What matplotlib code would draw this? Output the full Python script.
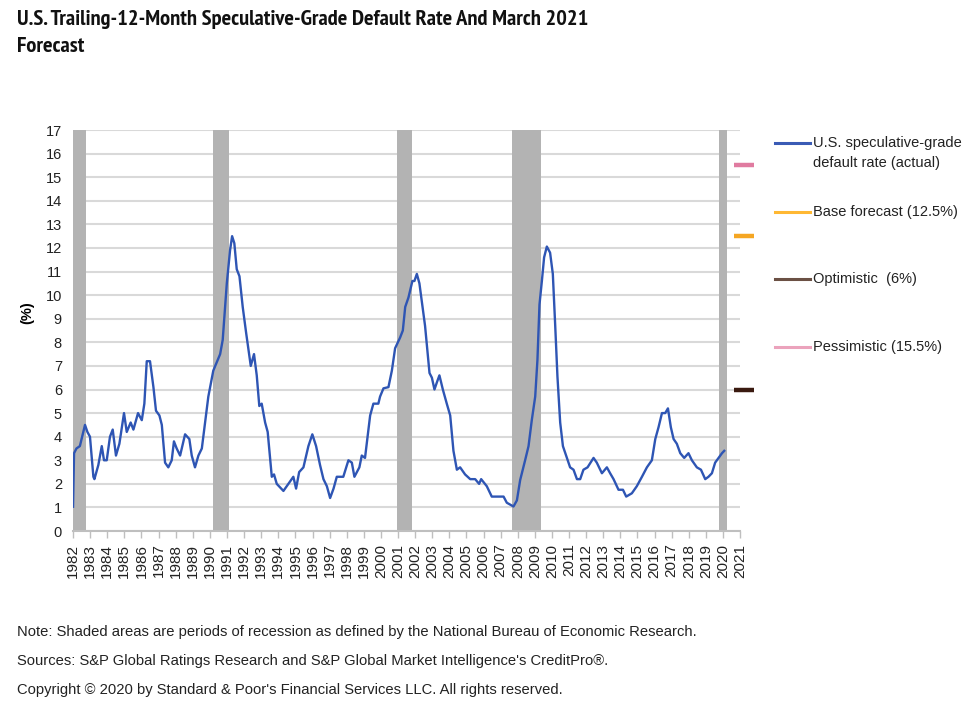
import numpy as np
import matplotlib.pyplot as plt
import matplotlib.font_manager as fm
from matplotlib.lines import Line2D

plt.rcParams['font.family'] = ['Liberation Sans', 'DejaVu Sans']


def peso(f):
    w = f.weight
    if isinstance(w, str):
        return fm.weight_dict.get(w, 400)
    return w


# buscar una fuente estrecha en negrita para el titulo (como Arial Narrow Bold)
estrechas = [f for f in fm.fontManager.ttflist
             if ('Narrow' in f.name or 'Condensed' in f.name) and peso(f) >= 600]
estrechas.sort(key=lambda f: (0 if 'Narrow' in f.name else 1 if 'Roboto' in f.name else 2,
                              abs(peso(f) - 700)))
if estrechas:
    fuente_titulo, tam_titulo = [estrechas[0].name, 'DejaVu Sans'], 16.2
else:
    fuente_titulo, tam_titulo = ['Liberation Sans', 'DejaVu Sans'], 12.6

# fecha (año fraccional) y tasa de default (%)
fechas = [1982.0, 1982.06, 1982.2, 1982.4, 1982.5, 1982.7, 1982.84, 1982.99, 1983.19, 1983.25,
          1983.48, 1983.58, 1983.68, 1983.81, 1983.97, 1984.16, 1984.32, 1984.51, 1984.71, 1984.98,
          1985.14, 1985.37, 1985.53, 1985.8, 1986.02, 1986.17, 1986.31, 1986.5, 1986.7, 1986.85,
          1987.05, 1987.19, 1987.38, 1987.57, 1987.77, 1987.9, 1988.06, 1988.26, 1988.55, 1988.8,
          1988.94, 1989.13, 1989.33, 1989.53, 1989.91, 1990.2, 1990.6, 1990.75, 1990.99, 1991.18,
          1991.3, 1991.43, 1991.57, 1991.73, 1991.92, 1992.12, 1992.39, 1992.58, 1992.74, 1992.89,
          1993.03, 1993.23, 1993.38, 1993.62, 1993.75, 1993.91, 1994.3, 1994.69, 1994.88, 1995.04,
          1995.22, 1995.47, 1995.76, 1995.99, 1996.21, 1996.44, 1996.64, 1996.84, 1997.03, 1997.23,
          1997.42, 1997.61, 1997.8, 1998.1, 1998.3, 1998.45, 1998.74, 1998.88, 1999.07, 1999.37,
          1999.56, 1999.85, 1999.95, 2000.15, 2000.44, 2000.64, 2000.83, 2001.12, 2001.28, 2001.42,
          2001.61, 2001.84, 2001.96, 2002.1, 2002.25, 2002.45, 2002.58, 2002.84, 2002.98, 2003.13,
          2003.27, 2003.42, 2003.62, 2003.85, 2004.05, 2004.24, 2004.44, 2004.63, 2004.92, 2005.22,
          2005.51, 2005.74, 2005.86, 2006.19, 2006.48, 2006.78, 2007.17, 2007.36, 2007.75, 2007.95,
          2008.14, 2008.43, 2008.63, 2008.82, 2009.02, 2009.15, 2009.27, 2009.41, 2009.54, 2009.7,
          2009.89, 2010.05, 2010.19, 2010.32, 2010.48, 2010.64, 2010.87, 2011.06, 2011.26, 2011.46,
          2011.65, 2011.84, 2012.08, 2012.43, 2012.62, 2012.92, 2013.21, 2013.4, 2013.6, 2013.89,
          2014.15, 2014.34, 2014.67, 2014.96, 2015.26, 2015.55, 2015.84, 2016.04, 2016.23, 2016.43,
          2016.62, 2016.78, 2016.95, 2017.11, 2017.3, 2017.5, 2017.73, 2017.98, 2018.18, 2018.47,
          2018.71, 2018.96, 2019.15, 2019.35, 2019.54, 2019.74, 2019.94, 2020.07]
tasa = [1.03, 3.3, 3.5, 3.6, 3.9, 4.5, 4.2, 4.0, 2.3, 2.2,
        2.8, 3.2, 3.6, 3.0, 3.0, 4.0, 4.3, 3.2, 3.7, 5.0,
        4.2, 4.6, 4.3, 5.0, 4.7, 5.4, 7.2, 7.2, 6.1, 5.1,
        4.9, 4.5, 2.9, 2.7, 3.0, 3.8, 3.5, 3.2, 4.1, 3.9,
        3.2, 2.7, 3.2, 3.5, 5.7, 6.8, 7.5, 8.1, 10.5, 11.9,
        12.5, 12.2, 11.1, 10.8, 9.5, 8.4, 7.0, 7.5, 6.6, 5.3,
        5.4, 4.6, 4.2, 2.3, 2.4, 2.0, 1.7, 2.1, 2.3, 1.8,
        2.5, 2.7, 3.6, 4.1, 3.6, 2.8, 2.2, 1.9, 1.4, 1.8,
        2.3, 2.3, 2.3, 3.0, 2.9, 2.3, 2.7, 3.2, 3.1, 4.9,
        5.4, 5.4, 5.7, 6.05, 6.1, 6.8, 7.75, 8.2, 8.5, 9.5,
        9.9, 10.6, 10.6, 10.9, 10.5, 9.4, 8.7, 6.7, 6.5, 6.0,
        6.3, 6.6, 6.0, 5.4, 4.9, 3.4, 2.6, 2.7, 2.4, 2.2,
        2.2, 2.0, 2.2, 1.9, 1.46, 1.46, 1.46, 1.2, 1.04, 1.3,
        2.16, 3.0, 3.6, 4.7, 5.7, 7.25, 9.6, 10.6, 11.6, 12.06,
        11.8, 10.9, 8.7, 6.55, 4.6, 3.6, 3.1, 2.7, 2.6, 2.2,
        2.2, 2.6, 2.7, 3.1, 2.9, 2.45, 2.7, 2.45, 2.2, 1.75,
        1.75, 1.46, 1.6, 1.9, 2.3, 2.7, 3.0, 3.9, 4.4, 5.0,
        5.0, 5.2, 4.4, 3.9, 3.7, 3.3, 3.1, 3.3, 3.0, 2.7,
        2.6, 2.2, 2.3, 2.45, 2.9, 3.1, 3.3, 3.4]

# recesiones NBER (inicio, fin)
recesiones = [(1982.0, 1982.76), (1990.19, 1991.12), (2000.95, 2001.82),
              (2007.67, 2009.37), (2019.78, 2020.25)]

# pronosticos a marzo 2021
fecha_pronostico = 2021.25
pronosticos = {"Base forecast (12.5%)": 12.5, "Optimistic  (6%)": 6.0, "Pessimistic (15.5%)": 15.5}
colores_marca = {"Base forecast (12.5%)": "#F5A623", "Optimistic  (6%)": "#3A1A10",
                 "Pessimistic (15.5%)": "#E07BA0"}

anios = list(range(1982, 2022))

fig = plt.figure(figsize=(9.79, 7.18), dpi=100)
ax = fig.add_axes([0.0746, 0.2604, 0.6814, 0.5585])

for ini, fin in recesiones:
    ax.axvspan(ini, fin, color="#B3B3B3", lw=0, zorder=1)

ax.plot(fechas, tasa, color="#2E55B4", lw=1.7, zorder=3)

for nombre, valor in pronosticos.items():
    ax.plot([fecha_pronostico], [valor], marker="_", ms=15, mew=3.2,
            color=colores_marca[nombre], clip_on=False, zorder=4)

ax.set_xlim(1982, 2021)
ax.set_ylim(0, 17)
ax.set_yticks(range(0, 18))
ax.set_xticks(anios)
ax.set_xticklabels([str(a) for a in anios], rotation=90, fontsize=11)
ax.tick_params(axis="y", length=0, labelsize=10.5, pad=8, labelcolor="#222222")
ax.tick_params(axis="x", length=5, width=1, color="#BFBFBF", pad=4, labelcolor="#222222")
ax.grid(axis="y", color="#D9D9D9", lw=1.5, zorder=0)
ax.set_axisbelow(True)
for lado in ["top", "right", "left"]:
    ax.spines[lado].set_visible(False)
ax.spines["bottom"].set_color("#BFBFBF")
ax.spines["bottom"].set_linewidth(1.5)

fig.text(27 / 979, 1 - 313 / 718, "(%)", rotation=90, ha="center", va="center",
         fontsize=10.5, fontweight="bold")

fig.text(17 / 979, 1 - 10 / 718,
         "U.S. Trailing-12-Month Speculative-Grade Default Rate And March 2021\nForecast",
         ha="left", va="top", fontsize=tam_titulo, fontweight="bold", linespacing=1.55,
         color="#111111", family=fuente_titulo)

# leyenda
entradas = [("U.S. speculative-grade\ndefault rate (actual)", "#3A5BB5", 143),
            ("Base forecast (12.5%)", "#FFB833", 212),
            ("Optimistic  (6%)", "#6B5044", 279),
            ("Pessimistic (15.5%)", "#EBA3BC", 347)]
for texto, color, ypix in entradas:
    yf = 1 - ypix / 718
    fig.add_artist(Line2D([775 / 979, 810 / 979], [yf, yf], color=color, lw=2.2,
                          transform=fig.transFigure))
    fig.text(813 / 979, yf + 7 / 718, texto, ha="left", va="top", fontsize=10.5,
             linespacing=1.5, color="#222222")

notas = ["Note: Shaded areas are periods of recession as defined by the National Bureau of Economic Research.",
         "Sources: S&P Global Ratings Research and S&P Global Market Intelligence's CreditPro®.",
         "Copyright © 2020 by Standard & Poor's Financial Services LLC. All rights reserved."]
for i, nota in enumerate(notas):
    fig.text(17 / 979, 1 - (632 + 29 * i) / 718, nota, ha="left", va="center",
             fontsize=10.6, color="#222222")

plt.savefig("out.png", dpi=100)
